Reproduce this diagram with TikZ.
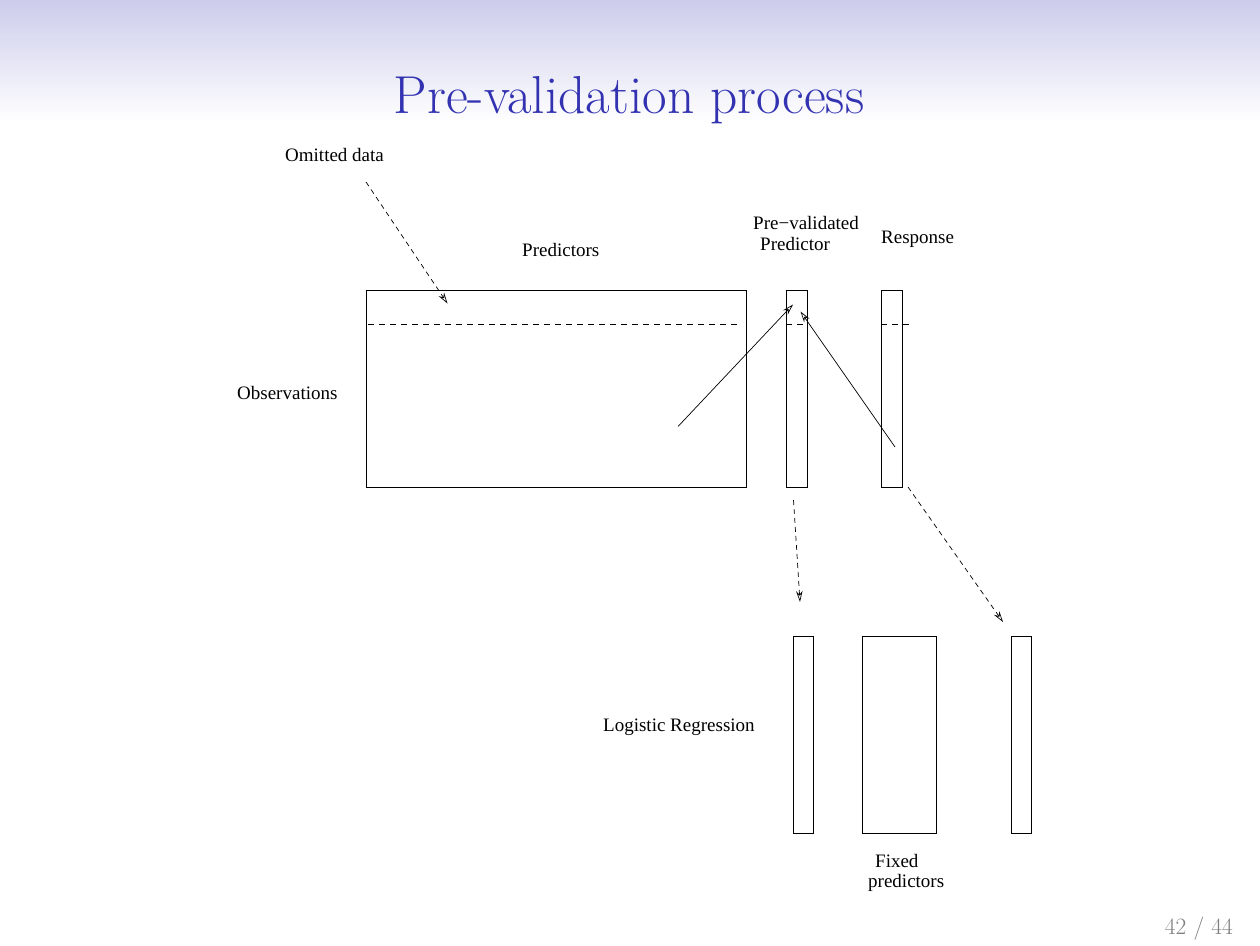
\documentclass[tikz,border=0pt]{standalone}
\usepackage{fontspec}
\usetikzlibrary{arrows.meta}
\newfontfamily\diagfont{Liberation Serif}
\definecolor{titleblue}{rgb}{0.2,0.2,0.7}
\definecolor{headtop}{RGB}{204,204,235}
\begin{document}
\begin{tikzpicture}[x=1pt,y=-1pt,
  box/.style={draw=black,line width=0.9pt,inner sep=0pt,outer sep=0pt},
  lbl/.style={font=\diagfont\fontsize{19}{22}\selectfont,inner sep=0pt,anchor=base west},
  solidarrow/.style={line width=0.7pt,-{Stealth[open,length=11pt,width=6.5pt]}},
  dasharrow/.style={line width=0.7pt,dash pattern=on 5pt off 4pt,-{Stealth[open,length=11pt,width=6.5pt]}},
  dashline/.style={line width=0.9pt,dash pattern=on 6pt off 5pt}]
\useasboundingbox (0,0) rectangle (1260,945);
\fill[white] (0,0) rectangle (1260,945);
\shade[top color=headtop,bottom color=white] (0,0) rectangle (1260,122);
\node[font=\fontsize{53.4}{64}\selectfont,text=titleblue,anchor=base,inner sep=0pt] (title) at (629,113) {Pre-validation process};
\node[font=\fontsize{23.4}{28}\selectfont,text=black!50,anchor=base east,inner sep=0pt] (page) at (1233,934) {42 / 44};

% top boxes
\node[box,minimum width=380pt,minimum height=197pt] (big) at (556,388.5) {};
\node[box,minimum width=21pt,minimum height=197pt] (pv) at (796.5,388.5) {};
\node[box,minimum width=21pt,minimum height=197pt] (resp) at (891.5,388.5) {};

% dashed omitted rows
\draw[dashline] (368,324) -- (740,324);
\draw[dashline] (786,324) -- (807,324);
\draw[dashline] (881,324) -- (909,324);

% bottom boxes
\node[box,minimum width=20pt,minimum height=197pt] (lrA) at (803,734.5) {};
\node[box,minimum width=74pt,minimum height=197pt] (lrB) at (899,734.5) {};
\node[box,minimum width=20pt,minimum height=197pt] (lrC) at (1021,734.5) {};

% labels
\node[lbl] (omit) at (285,161) {Omitted data};
\node[lbl] (preds) at (522,256) {Predictors};
\node[lbl] (pvl1) at (753,229) {Pre−validated};
\node[lbl] (pvl2) at (760,250) {Predictor};
\node[lbl] (respl) at (881,243) {Response};
\node[lbl] (obs) at (237,399) {Observations};
\node[lbl] (logit) at (603,731) {Logistic Regression};
\node[lbl] (fix1) at (875,867) {Fixed};
\node[lbl] (fix2) at (868,887) {predictors};

% connector end points
\coordinate (omitS) at (366,182);
\coordinate (omitE) at (447.5,303.5);
\coordinate (a1S) at (678,426.5);
\coordinate (a1E) at (793,304.5);
\coordinate (a2S) at (895,447);
\coordinate (a2E) at (800.5,311.5);
\coordinate (d1S) at (793.5,500);
\coordinate (d1E) at (800,602);
\coordinate (d2S) at (908,487);
\coordinate (d2E) at (1003,622);

\draw[dasharrow] (omitS) -- (omitE);
\draw[solidarrow] (a1S) -- (a1E);
\draw[solidarrow] (a2S) -- (a2E);
\draw[dasharrow] (d1S) -- (d1E);
\draw[dasharrow] (d2S) -- (d2E);
\end{tikzpicture}
\end{document}
